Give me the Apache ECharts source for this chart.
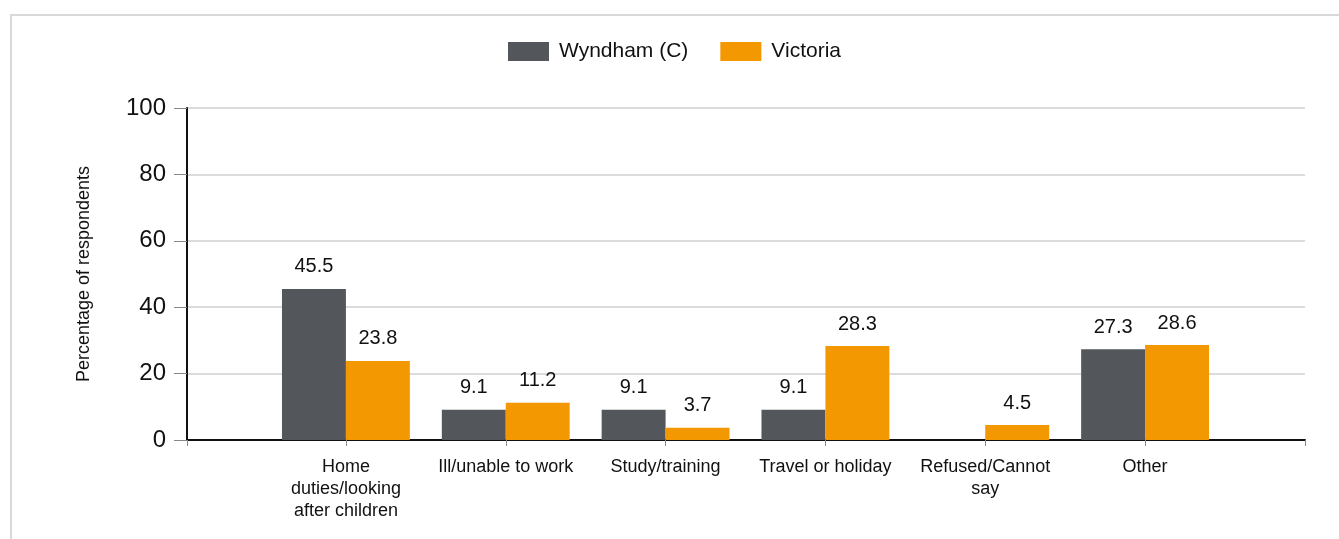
<!DOCTYPE html>
<html>
<head>
<meta charset="utf-8">
<script src="https://cdn.jsdelivr.net/npm/echarts@6/dist/echarts.min.js"></script>
<style>
    html, body { margin: 0; padding: 0; background: #fff; overflow: hidden; }
    .frame {
        position: absolute;
        left: 10px;
        top: 14px;
        width: 1400px;
        height: 600px;
        border: 2px solid #d9d9d9;
    }
    #chart { position: absolute; left: 0; top: 0; width: 1339px; height: 539px; }
</style>
</head>
<body>
<div class="frame"></div>
<div id="chart"></div>
<script>
    var categories = ['Home\nduties/looking\nafter children', 'Ill/unable to work', 'Study/training',
        'Travel or holiday', 'Refused/Cannot\nsay', 'Other'];
    var wyndham = [45.5, 9.1, 9.1, 9.1, null, 27.3];
    var victoria = [23.8, 11.2, 3.7, 28.3, 4.5, 28.6];
    var seriesNames = ['Wyndham (C)', 'Victoria'];

    var font = 'Liberation Sans, Arial, sans-serif';

    var barLabel = {
        show: true,
        position: 'top',
        distance: 12,
        fontFamily: font,
        fontSize: 20,
        color: '#111'
    };

    var chart = echarts.init(document.getElementById('chart'));
    chart.setOption({
        backgroundColor: 'transparent',
        color: ['#53565a', '#f39800'],
        legend: {
            data: seriesNames,
            top: 36,
            left: 503,
            itemWidth: 41,
            itemHeight: 19,
            itemGap: 32,
            icon: 'rect',
            textStyle: { fontFamily: font, fontSize: 21, color: '#111', padding: [0, 0, 0, 5] }
        },
        grid: [
            { left: 187, right: 34, top: 108, bottom: 99 },
            { left: 266, right: 114, top: 108, bottom: 99 }
        ],
        xAxis: [
            {
                gridIndex: 0,
                type: 'value',
                min: 0,
                max: 1,
                interval: 1,
                axisLine: { show: true, lineStyle: { color: '#111', width: 2 } },
                axisTick: { show: true, length: 6, lineStyle: { color: '#888' } },
                axisLabel: { show: false },
                splitLine: { show: false }
            },
            {
                gridIndex: 1,
                type: 'category',
                data: categories,
                axisLine: { show: false },
                axisTick: { show: true, alignWithLabel: true, length: 6, lineStyle: { color: '#888' } },
                axisLabel: {
                    interval: 0,
                    margin: 16,
                    fontFamily: font,
                    fontSize: 18,
                    lineHeight: 22,
                    color: '#111'
                }
            }
        ],
        yAxis: [
            {
                gridIndex: 0,
                type: 'value',
                min: 0,
                max: 100,
                interval: 20,
                name: 'Percentage of respondents',
                nameLocation: 'middle',
                nameGap: 94,
                nameTextStyle: { fontFamily: font, fontSize: 18, color: '#111' },
                axisLine: { show: true, lineStyle: { color: '#111', width: 2 } },
                axisTick: { show: true, length: 13, lineStyle: { color: '#888' } },
                axisLabel: { margin: 21, fontFamily: font, fontSize: 24, color: '#111' },
                splitLine: { show: true, lineStyle: { color: '#dcdcdc', width: 2 } }
            },
            {
                gridIndex: 1,
                type: 'value',
                min: 0,
                max: 100,
                show: false
            }
        ],
        series: [
            {
                name: seriesNames[0],
                type: 'bar',
                xAxisIndex: 1,
                yAxisIndex: 1,
                data: wyndham,
                barGap: '0%',
                barCategoryGap: '20%',
                label: barLabel
            },
            {
                name: seriesNames[1],
                type: 'bar',
                xAxisIndex: 1,
                yAxisIndex: 1,
                data: victoria,
                barGap: '0%',
                barCategoryGap: '20%',
                label: barLabel
            }
        ]
    });
</script>
</body>
</html>
